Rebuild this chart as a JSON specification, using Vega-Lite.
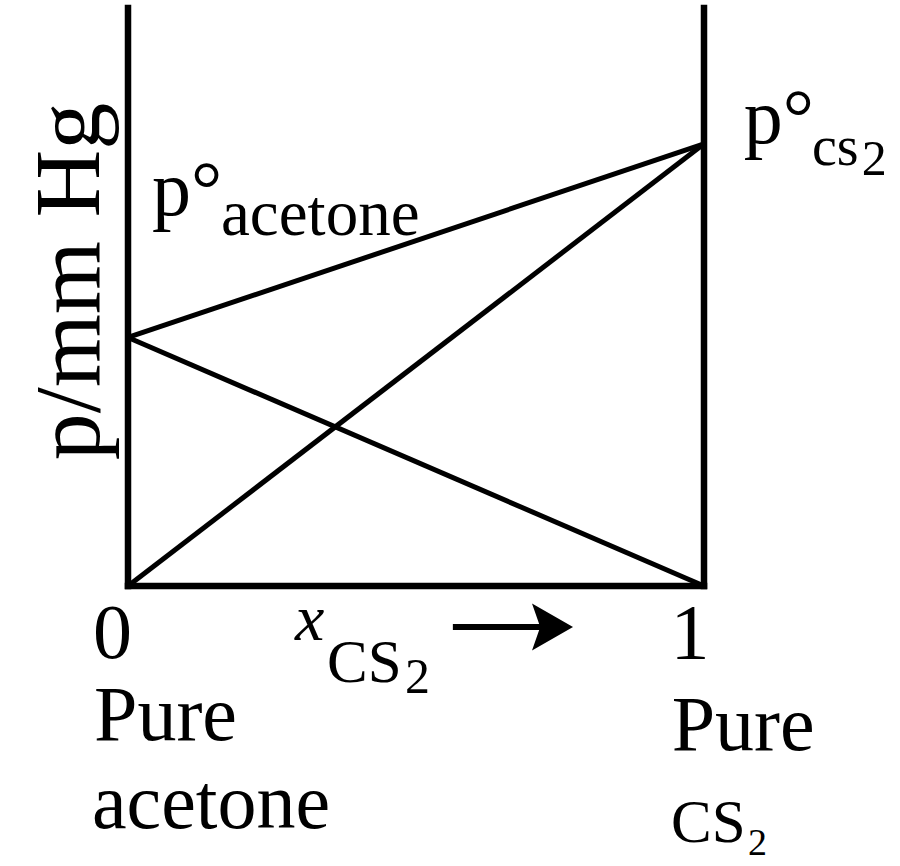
{
  "$schema": "https://vega.github.io/schema/vega-lite/v6.json",
  "description": "Vapour pressure of acetone + CS2 mixture against mole fraction of CS2",
  "autosize": {"type": "none"},
  "width": 576,
  "height": 578,
  "padding": {"left": 128, "top": 8, "right": 196, "bottom": 280},
  "background": "#FFFFFF",
  "config": {"view": {"stroke": null}},
  "encoding": {
    "x": {"field": "x", "type": "quantitative", "axis": null, "scale": {"domain": [0, 1], "nice": false, "zero": false}},
    "y": {
      "field": "y",
      "type": "quantitative",
      "scale": {"domain": [0, 100], "nice": false, "zero": false},
      "axis": {
        "title": "p/mm Hg",
        "titleFont": "Liberation Serif",
        "titleFontSize": 94,
        "titleFontWeight": "normal",
        "titleColor": "#000000",
        "titleAngle": 270,
        "titleAlign": "center",
        "titleBaseline": "alphabetic",
        "titleX": -30,
        "titleY": 273,
        "labels": false,
        "ticks": false,
        "domain": false,
        "grid": false
      }
    }
  },
  "layer": [
    {
      "data": {"values": [
        {"x": 0, "y": 0, "x2": 0, "y2": 100},
        {"x": 1, "y": 0, "x2": 1, "y2": 100},
        {"x": 0, "y": 0, "x2": 1, "y2": 0}
      ]},
      "mark": {"type": "rule", "color": "#000000", "strokeWidth": 6.5, "strokeCap": "square"},
      "encoding": {"x2": {"field": "x2"}, "y2": {"field": "y2"}}
    },
    {
      "data": {"values": [
        {"series": "total", "x": 0, "y": 43},
        {"series": "total", "x": 1, "y": 76.5},
        {"series": "acetone", "x": 0, "y": 43},
        {"series": "acetone", "x": 1, "y": 0},
        {"series": "CS2", "x": 0, "y": 0},
        {"series": "CS2", "x": 1, "y": 76.5}
      ]},
      "mark": {"type": "line", "color": "#000000", "strokeWidth": 5},
      "encoding": {"detail": {"field": "series"}}
    },
    {
      "data": {"values": [{"x": 0.564, "y": -7.09, "x2": 0.73, "y2": -7.09}]},
      "mark": {"type": "rule", "color": "#000000", "strokeWidth": 6},
      "encoding": {"x2": {"field": "x2"}, "y2": {"field": "y2"}}
    },
    {
      "data": {"values": [{"x": 0.737, "y": -7.09}]},
      "mark": {"type": "point", "shape": "M-1,-1.15L1,0L-1,1.15L-0.6,0Z", "size": 1681, "filled": true, "color": "#000000", "opacity": 1},
      "encoding": {}
    },
    {
      "data": {"values": [
        {"label": "p°", "x": 0.0417, "y": 64.19},
        {"label": "p°", "x": 1.069, "y": 76.64},
        {"label": "0", "x": -0.0608, "y": -12.46},
        {"label": "1", "x": 0.9418, "y": -12.46},
        {"label": "Pure", "x": -0.059, "y": -26.64},
        {"label": "acetone", "x": -0.0625, "y": -41.87},
        {"label": "Pure", "x": 0.944, "y": -28.37}
      ]},
      "mark": {"type": "text", "font": "Liberation Serif", "fontSize": 78, "align": "left", "baseline": "alphabetic", "color": "#000000"},
      "encoding": {"text": {"field": "label"}}
    },
    {
      "data": {"values": [{"label": "acetone", "x": 0.1615, "y": 60.73}]},
      "mark": {"type": "text", "font": "Liberation Serif", "fontSize": 65, "align": "left", "baseline": "alphabetic", "color": "#000000"},
      "encoding": {"text": {"field": "label"}}
    },
    {
      "data": {"values": [
        {"label": "CS", "x": 0.3455, "y": -16.61},
        {"label": "CS", "x": 0.9427, "y": -44.29}
      ]},
      "mark": {"type": "text", "font": "Liberation Serif", "fontSize": 61, "align": "left", "baseline": "alphabetic", "color": "#000000"},
      "encoding": {"text": {"field": "label"}}
    },
    {
      "data": {"values": [{"label": "cs", "x": 1.1875, "y": 72.84}]},
      "mark": {"type": "text", "font": "Liberation Serif", "fontSize": 56, "align": "left", "baseline": "alphabetic", "color": "#000000"},
      "encoding": {"text": {"field": "label"}}
    },
    {
      "data": {"values": [
        {"label": "2", "x": 1.274, "y": 71.1},
        {"label": "2", "x": 0.481, "y": -18.51}
      ]},
      "mark": {"type": "text", "font": "Liberation Serif", "fontSize": 50, "align": "left", "baseline": "alphabetic", "color": "#000000"},
      "encoding": {"text": {"field": "label"}}
    },
    {
      "data": {"values": [{"label": "2", "x": 1.0764, "y": -46.54}]},
      "mark": {"type": "text", "font": "Liberation Serif", "fontSize": 38, "align": "left", "baseline": "alphabetic", "color": "#000000"},
      "encoding": {"text": {"field": "label"}}
    },
    {
      "data": {"values": [{"label": "x", "x": 0.29, "y": -9.34}]},
      "mark": {"type": "text", "font": "Liberation Serif", "fontSize": 66, "fontStyle": "italic", "align": "left", "baseline": "alphabetic", "color": "#000000"},
      "encoding": {"text": {"field": "label"}}
    }
  ]
}
